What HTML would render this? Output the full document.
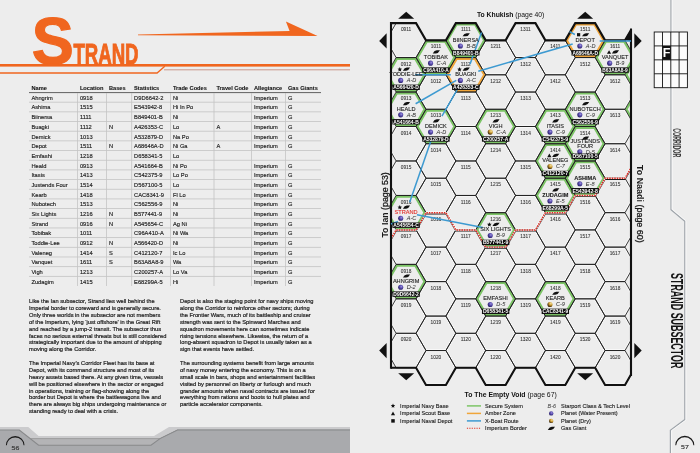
<!DOCTYPE html>
<html><head><meta charset="utf-8"><title>Strand</title>
<style>
html,body{margin:0;padding:0;}
body{width:700px;height:453px;background:#ededed;position:relative;overflow:hidden;font-family:"Liberation Sans", Arial, sans-serif;}
svg.full{position:absolute;left:0;top:0;}
.col{position:absolute;width:150px;font-size:6.25px;line-height:6.88px;color:#1e1e1e;white-space:nowrap;transform:scale(0.915,1);transform-origin:0 0;-webkit-text-stroke:0.22px #1e1e1e;}
.col p{margin:0 0 6.88px 0;}
</style></head><body>
<svg class="full" width="700" height="453" viewBox="0 0 700 453">
<polygon points="0,426.9 28.3,426.9 38.6,436.0 154,436.0 169,426.9 350,426.9 350,453 0,453" fill="#cbcbcd"/>
<polygon points="0,430 19.3,430 30.5,438.6 160,438.6 177.5,430 350,430 350,453 0,453" fill="#b4b4b6"/>
<polyline points="30.5,438.6 160,438.6 177.5,430 350,430" fill="none" stroke="#98989a" stroke-width="0.9"/>
<polygon points="0,430 19.3,430 38.6,445.3 151,445.3 160,438.6 177.5,430 350,430 350,453 0,453" fill="#a9aaad"/>
<polyline points="0,430 19.3,430 38.6,445.3 151,445.3 160,438.6 177.5,430 350,430" fill="none" stroke="#88898b" stroke-width="1.1"/>
<path d="M5.9,445.3 A9.3,9.3 0 0 1 24.5,445.3 L23.6,445.3 A8.4,7.8 0 0 0 6.8,445.3 Z" fill="#1a1a1a"/>
<text transform="translate(15.4,449.5) scale(1.4,1)" font-size="5.0" text-anchor="middle" fill="#3a3a3a" stroke="#3a3a3a" stroke-width="0.15" font-family='"Liberation Sans", Arial, sans-serif'>56</text>
<rect x="0" y="64" width="350" height="2.6" fill="#f0661f"/>
<polyline points="0,73 157.1,73 164.8,66.2" fill="none" stroke="#f0661f" stroke-width="1.3"/>
<rect x="164" y="69.1" width="186" height="1.3" fill="#d2aba1"/>
<polygon points="138,34.4 289.6,30.9 285.9,21.4 317.6,36 138,35.3" fill="#f0661f"/>
<text transform="translate(31.8,64.2) scale(0.955,1)" font-size="66" font-weight="bold" fill="#f0661f" font-family='"Liberation Sans", Arial, sans-serif' stroke="#f0661f" stroke-width="1.2">S</text>
<text transform="translate(73.4,64.2) scale(0.625,1)" x="0" y="0" font-size="29.8" font-weight="bold" fill="#f0661f" stroke="#f0661f" stroke-width="1.0" font-family='"Liberation Sans", Arial, sans-serif'>TRAND</text>
<g font-family='"Liberation Sans", Arial, sans-serif' font-size="6.1" fill="#151515" stroke="#151515" stroke-width="0.1">
<text transform="translate(31.4,90.3) scale(0.93,1)" font-weight="bold">Name</text>
<text transform="translate(79.9,90.3) scale(0.93,1)" font-weight="bold">Location</text>
<text transform="translate(108.9,90.3) scale(0.93,1)" font-weight="bold">Bases</text>
<text transform="translate(134.1,90.3) scale(0.93,1)" font-weight="bold">Statistics</text>
<text transform="translate(172.9,90.3) scale(0.93,1)" font-weight="bold">Trade Codes</text>
<text transform="translate(216.4,90.3) scale(0.93,1)" font-weight="bold">Travel Code</text>
<text transform="translate(253.9,90.3) scale(0.93,1)" font-weight="bold">Allegiance</text>
<text transform="translate(287.9,90.3) scale(0.93,1)" font-weight="bold">Gas Giants</text>
</g>
<rect x="29" y="92" width="292" height="1.1" fill="#6e6e6e"/>
<rect x="29" y="101.77" width="292" height="0.8" fill="#c4c4c4"/>
<rect x="29" y="111.45" width="292" height="0.8" fill="#c4c4c4"/>
<rect x="29" y="121.12" width="292" height="0.8" fill="#c4c4c4"/>
<rect x="29" y="130.80" width="292" height="0.8" fill="#c4c4c4"/>
<rect x="29" y="140.47" width="292" height="0.8" fill="#c4c4c4"/>
<rect x="29" y="150.15" width="292" height="0.8" fill="#c4c4c4"/>
<rect x="29" y="159.83" width="292" height="0.8" fill="#c4c4c4"/>
<rect x="29" y="169.50" width="292" height="0.8" fill="#c4c4c4"/>
<rect x="29" y="179.17" width="292" height="0.8" fill="#c4c4c4"/>
<rect x="29" y="188.85" width="292" height="0.8" fill="#c4c4c4"/>
<rect x="29" y="198.53" width="292" height="0.8" fill="#c4c4c4"/>
<rect x="29" y="208.20" width="292" height="0.8" fill="#c4c4c4"/>
<rect x="29" y="217.88" width="292" height="0.8" fill="#c4c4c4"/>
<rect x="29" y="227.55" width="292" height="0.8" fill="#c4c4c4"/>
<rect x="29" y="237.22" width="292" height="0.8" fill="#c4c4c4"/>
<rect x="29" y="246.90" width="292" height="0.8" fill="#c4c4c4"/>
<rect x="29" y="256.58" width="292" height="0.8" fill="#c4c4c4"/>
<rect x="29" y="266.25" width="292" height="0.8" fill="#c4c4c4"/>
<rect x="29" y="275.93" width="292" height="0.8" fill="#c4c4c4"/>
<rect x="77.1" y="93" width="0.8" height="193.0" fill="#c4c4c4"/>
<rect x="106.1" y="93" width="0.8" height="193.0" fill="#c4c4c4"/>
<rect x="131.3" y="93" width="0.8" height="193.0" fill="#c4c4c4"/>
<rect x="170.1" y="93" width="0.8" height="193.0" fill="#c4c4c4"/>
<rect x="213.6" y="93" width="0.8" height="193.0" fill="#c4c4c4"/>
<rect x="251.1" y="93" width="0.8" height="193.0" fill="#c4c4c4"/>
<rect x="285.1" y="93" width="0.8" height="193.0" fill="#c4c4c4"/>
<g font-family='"Liberation Sans", Arial, sans-serif' font-size="6.2" fill="#1e1e1e" stroke="#1e1e1e" stroke-width="0.16">
<text transform="translate(31.4,99.80) scale(0.925,1)">Ahngrim</text>
<text transform="translate(79.9,99.80) scale(0.925,1)">0918</text>
<text transform="translate(134.1,99.80) scale(0.925,1)">D9D6642-2</text>
<text transform="translate(172.9,99.80) scale(0.925,1)">Ni</text>
<text transform="translate(253.9,99.80) scale(0.925,1)">Imperium</text>
<text transform="translate(287.9,99.80) scale(0.925,1)">G</text>
<text transform="translate(31.4,109.47) scale(0.925,1)">Ashima</text>
<text transform="translate(79.9,109.47) scale(0.925,1)">1515</text>
<text transform="translate(134.1,109.47) scale(0.925,1)">E543942-8</text>
<text transform="translate(172.9,109.47) scale(0.925,1)">Hi In Po</text>
<text transform="translate(253.9,109.47) scale(0.925,1)">Imperium</text>
<text transform="translate(287.9,109.47) scale(0.925,1)">G</text>
<text transform="translate(31.4,119.15) scale(0.925,1)">Biinersa</text>
<text transform="translate(79.9,119.15) scale(0.925,1)">1111</text>
<text transform="translate(134.1,119.15) scale(0.925,1)">B849401-B</text>
<text transform="translate(172.9,119.15) scale(0.925,1)">Ni</text>
<text transform="translate(253.9,119.15) scale(0.925,1)">Imperium</text>
<text transform="translate(287.9,119.15) scale(0.925,1)">G</text>
<text transform="translate(31.4,128.83) scale(0.925,1)">Buagki</text>
<text transform="translate(79.9,128.83) scale(0.925,1)">1112</text>
<text transform="translate(108.9,128.83) scale(0.925,1)">N</text>
<text transform="translate(134.1,128.83) scale(0.925,1)">A426353-C</text>
<text transform="translate(172.9,128.83) scale(0.925,1)">Lo</text>
<text transform="translate(216.4,128.83) scale(0.925,1)">A</text>
<text transform="translate(253.9,128.83) scale(0.925,1)">Imperium</text>
<text transform="translate(287.9,128.83) scale(0.925,1)">G</text>
<text transform="translate(31.4,138.50) scale(0.925,1)">Demick</text>
<text transform="translate(79.9,138.50) scale(0.925,1)">1013</text>
<text transform="translate(134.1,138.50) scale(0.925,1)">A532879-D</text>
<text transform="translate(172.9,138.50) scale(0.925,1)">Na Po</text>
<text transform="translate(253.9,138.50) scale(0.925,1)">Imperium</text>
<text transform="translate(287.9,138.50) scale(0.925,1)">G</text>
<text transform="translate(31.4,148.18) scale(0.925,1)">Depot</text>
<text transform="translate(79.9,148.18) scale(0.925,1)">1511</text>
<text transform="translate(108.9,148.18) scale(0.925,1)">N</text>
<text transform="translate(134.1,148.18) scale(0.925,1)">A68646A-D</text>
<text transform="translate(172.9,148.18) scale(0.925,1)">Ni Ga</text>
<text transform="translate(216.4,148.18) scale(0.925,1)">A</text>
<text transform="translate(253.9,148.18) scale(0.925,1)">Imperium</text>
<text transform="translate(287.9,148.18) scale(0.925,1)">G</text>
<text transform="translate(31.4,157.85) scale(0.925,1)">Emfashi</text>
<text transform="translate(79.9,157.85) scale(0.925,1)">1218</text>
<text transform="translate(134.1,157.85) scale(0.925,1)">D658341-5</text>
<text transform="translate(172.9,157.85) scale(0.925,1)">Lo</text>
<text transform="translate(31.4,167.53) scale(0.925,1)">Heald</text>
<text transform="translate(79.9,167.53) scale(0.925,1)">0913</text>
<text transform="translate(134.1,167.53) scale(0.925,1)">A541664-B</text>
<text transform="translate(172.9,167.53) scale(0.925,1)">Ni Po</text>
<text transform="translate(253.9,167.53) scale(0.925,1)">Imperium</text>
<text transform="translate(287.9,167.53) scale(0.925,1)">G</text>
<text transform="translate(31.4,177.20) scale(0.925,1)">Itasis</text>
<text transform="translate(79.9,177.20) scale(0.925,1)">1413</text>
<text transform="translate(134.1,177.20) scale(0.925,1)">C542375-9</text>
<text transform="translate(172.9,177.20) scale(0.925,1)">Lo Po</text>
<text transform="translate(253.9,177.20) scale(0.925,1)">Imperium</text>
<text transform="translate(287.9,177.20) scale(0.925,1)">G</text>
<text transform="translate(31.4,186.88) scale(0.925,1)">Justends Four</text>
<text transform="translate(79.9,186.88) scale(0.925,1)">1514</text>
<text transform="translate(134.1,186.88) scale(0.925,1)">D567100-5</text>
<text transform="translate(172.9,186.88) scale(0.925,1)">Lo</text>
<text transform="translate(253.9,186.88) scale(0.925,1)">Imperium</text>
<text transform="translate(287.9,186.88) scale(0.925,1)">G</text>
<text transform="translate(31.4,196.55) scale(0.925,1)">Kearb</text>
<text transform="translate(79.9,196.55) scale(0.925,1)">1418</text>
<text transform="translate(134.1,196.55) scale(0.925,1)">CAC8341-9</text>
<text transform="translate(172.9,196.55) scale(0.925,1)">Fl Lo</text>
<text transform="translate(253.9,196.55) scale(0.925,1)">Imperium</text>
<text transform="translate(287.9,196.55) scale(0.925,1)">G</text>
<text transform="translate(31.4,206.23) scale(0.925,1)">Nubotech</text>
<text transform="translate(79.9,206.23) scale(0.925,1)">1513</text>
<text transform="translate(134.1,206.23) scale(0.925,1)">C562556-9</text>
<text transform="translate(172.9,206.23) scale(0.925,1)">Ni</text>
<text transform="translate(253.9,206.23) scale(0.925,1)">Imperium</text>
<text transform="translate(287.9,206.23) scale(0.925,1)">G</text>
<text transform="translate(31.4,215.90) scale(0.925,1)">Six Lights</text>
<text transform="translate(79.9,215.90) scale(0.925,1)">1216</text>
<text transform="translate(108.9,215.90) scale(0.925,1)">N</text>
<text transform="translate(134.1,215.90) scale(0.925,1)">B577441-9</text>
<text transform="translate(172.9,215.90) scale(0.925,1)">Ni</text>
<text transform="translate(253.9,215.90) scale(0.925,1)">Imperium</text>
<text transform="translate(287.9,215.90) scale(0.925,1)">G</text>
<text transform="translate(31.4,225.58) scale(0.925,1)">Strand</text>
<text transform="translate(79.9,225.58) scale(0.925,1)">0916</text>
<text transform="translate(108.9,225.58) scale(0.925,1)">N</text>
<text transform="translate(134.1,225.58) scale(0.925,1)">A545654-C</text>
<text transform="translate(172.9,225.58) scale(0.925,1)">Ag Ni</text>
<text transform="translate(253.9,225.58) scale(0.925,1)">Imperium</text>
<text transform="translate(287.9,225.58) scale(0.925,1)">G</text>
<text transform="translate(31.4,235.25) scale(0.925,1)">Tobibak</text>
<text transform="translate(79.9,235.25) scale(0.925,1)">1011</text>
<text transform="translate(134.1,235.25) scale(0.925,1)">C96A410-A</text>
<text transform="translate(172.9,235.25) scale(0.925,1)">Ni Wa</text>
<text transform="translate(253.9,235.25) scale(0.925,1)">Imperium</text>
<text transform="translate(287.9,235.25) scale(0.925,1)">G</text>
<text transform="translate(31.4,244.93) scale(0.925,1)">Toddie-Lee</text>
<text transform="translate(79.9,244.93) scale(0.925,1)">0912</text>
<text transform="translate(108.9,244.93) scale(0.925,1)">N</text>
<text transform="translate(134.1,244.93) scale(0.925,1)">A566420-D</text>
<text transform="translate(172.9,244.93) scale(0.925,1)">Ni</text>
<text transform="translate(253.9,244.93) scale(0.925,1)">Imperium</text>
<text transform="translate(287.9,244.93) scale(0.925,1)">G</text>
<text transform="translate(31.4,254.60) scale(0.925,1)">Valeneg</text>
<text transform="translate(79.9,254.60) scale(0.925,1)">1414</text>
<text transform="translate(108.9,254.60) scale(0.925,1)">S</text>
<text transform="translate(134.1,254.60) scale(0.925,1)">C412120-7</text>
<text transform="translate(172.9,254.60) scale(0.925,1)">Ic Lo</text>
<text transform="translate(253.9,254.60) scale(0.925,1)">Imperium</text>
<text transform="translate(287.9,254.60) scale(0.925,1)">G</text>
<text transform="translate(31.4,264.28) scale(0.925,1)">Vanquet</text>
<text transform="translate(79.9,264.28) scale(0.925,1)">1611</text>
<text transform="translate(108.9,264.28) scale(0.925,1)">S</text>
<text transform="translate(134.1,264.28) scale(0.925,1)">B63A8A8-9</text>
<text transform="translate(172.9,264.28) scale(0.925,1)">Wa</text>
<text transform="translate(253.9,264.28) scale(0.925,1)">Imperium</text>
<text transform="translate(287.9,264.28) scale(0.925,1)">G</text>
<text transform="translate(31.4,273.95) scale(0.925,1)">Vigh</text>
<text transform="translate(79.9,273.95) scale(0.925,1)">1213</text>
<text transform="translate(134.1,273.95) scale(0.925,1)">C200257-A</text>
<text transform="translate(172.9,273.95) scale(0.925,1)">Lo Va</text>
<text transform="translate(253.9,273.95) scale(0.925,1)">Imperium</text>
<text transform="translate(287.9,273.95) scale(0.925,1)">G</text>
<text transform="translate(31.4,283.63) scale(0.925,1)">Zudagim</text>
<text transform="translate(79.9,283.63) scale(0.925,1)">1415</text>
<text transform="translate(134.1,283.63) scale(0.925,1)">E68299A-5</text>
<text transform="translate(172.9,283.63) scale(0.925,1)">Hi</text>
<text transform="translate(253.9,283.63) scale(0.925,1)">Imperium</text>
<text transform="translate(287.9,283.63) scale(0.925,1)">G</text>
</g>
<defs>
<clipPath id="mc"><rect x="391.0" y="0" width="240.0" height="453"/></clipPath>
<radialGradient id="pw" cx="0.62" cy="0.38" r="0.7"><stop offset="0" stop-color="#9a8ee0"/><stop offset="0.5" stop-color="#5245a6"/><stop offset="1" stop-color="#221a5c"/></radialGradient>
<radialGradient id="pd" cx="0.68" cy="0.3" r="0.8"><stop offset="0" stop-color="#f6e2a0"/><stop offset="0.45" stop-color="#c8982e"/><stop offset="0.8" stop-color="#5a3e10"/><stop offset="1" stop-color="#2a1a05"/></radialGradient>
</defs>
<g clip-path="url(#mc)">
<g fill="none" stroke="#fbfbfb" stroke-width="0.8">
<polygon points="387.25,40.33 396.68,24.01 415.53,24.01 424.95,40.33 415.53,56.66 396.68,56.66"/>
<polygon points="387.25,74.80 396.68,58.48 415.53,58.48 424.95,74.80 415.53,91.13 396.68,91.13"/>
<polygon points="387.25,109.27 396.68,92.94 415.53,92.94 424.95,109.27 415.53,125.59 396.68,125.59"/>
<polygon points="387.25,143.74 396.68,127.41 415.53,127.41 424.95,143.74 415.53,160.06 396.68,160.06"/>
<polygon points="387.25,178.21 396.68,161.88 415.53,161.88 424.95,178.21 415.53,194.53 396.68,194.53"/>
<polygon points="387.25,212.67 396.68,196.35 415.53,196.35 424.95,212.67 415.53,229.00 396.68,229.00"/>
<polygon points="387.25,247.14 396.68,230.82 415.53,230.82 424.95,247.14 415.53,263.47 396.68,263.47"/>
<polygon points="387.25,281.61 396.68,265.28 415.53,265.28 424.95,281.61 415.53,297.93 396.68,297.93"/>
<polygon points="387.25,316.08 396.68,299.75 415.53,299.75 424.95,316.08 415.53,332.40 396.68,332.40"/>
<polygon points="387.25,350.54 396.68,334.22 415.53,334.22 424.95,350.54 415.53,366.87 396.68,366.87"/>
<polygon points="417.10,57.57 426.53,41.24 445.38,41.24 454.80,57.57 445.38,73.89 426.53,73.89"/>
<polygon points="417.10,92.04 426.53,75.71 445.38,75.71 454.80,92.04 445.38,108.36 426.53,108.36"/>
<polygon points="417.10,126.50 426.53,110.18 445.38,110.18 454.80,126.50 445.38,142.83 426.53,142.83"/>
<polygon points="417.10,160.97 426.53,144.65 445.38,144.65 454.80,160.97 445.38,177.30 426.53,177.30"/>
<polygon points="417.10,195.44 426.53,179.11 445.38,179.11 454.80,195.44 445.38,211.76 426.53,211.76"/>
<polygon points="417.10,229.91 426.53,213.58 445.38,213.58 454.80,229.91 445.38,246.23 426.53,246.23"/>
<polygon points="417.10,264.37 426.53,248.05 445.38,248.05 454.80,264.37 445.38,280.70 426.53,280.70"/>
<polygon points="417.10,298.84 426.53,282.52 445.38,282.52 454.80,298.84 445.38,315.17 426.53,315.17"/>
<polygon points="417.10,333.31 426.53,316.99 445.38,316.99 454.80,333.31 445.38,349.63 426.53,349.63"/>
<polygon points="417.10,367.78 426.53,351.45 445.38,351.45 454.80,367.78 445.38,384.10 426.53,384.10"/>
<polygon points="446.95,40.33 456.38,24.01 475.23,24.01 484.65,40.33 475.23,56.66 456.38,56.66"/>
<polygon points="446.95,74.80 456.38,58.48 475.23,58.48 484.65,74.80 475.23,91.13 456.38,91.13"/>
<polygon points="446.95,109.27 456.38,92.94 475.23,92.94 484.65,109.27 475.23,125.59 456.38,125.59"/>
<polygon points="446.95,143.74 456.38,127.41 475.23,127.41 484.65,143.74 475.23,160.06 456.38,160.06"/>
<polygon points="446.95,178.21 456.38,161.88 475.23,161.88 484.65,178.21 475.23,194.53 456.38,194.53"/>
<polygon points="446.95,212.67 456.38,196.35 475.23,196.35 484.65,212.67 475.23,229.00 456.38,229.00"/>
<polygon points="446.95,247.14 456.38,230.82 475.23,230.82 484.65,247.14 475.23,263.47 456.38,263.47"/>
<polygon points="446.95,281.61 456.38,265.28 475.23,265.28 484.65,281.61 475.23,297.93 456.38,297.93"/>
<polygon points="446.95,316.08 456.38,299.75 475.23,299.75 484.65,316.08 475.23,332.40 456.38,332.40"/>
<polygon points="446.95,350.54 456.38,334.22 475.23,334.22 484.65,350.54 475.23,366.87 456.38,366.87"/>
<polygon points="476.80,57.57 486.23,41.24 505.08,41.24 514.50,57.57 505.08,73.89 486.23,73.89"/>
<polygon points="476.80,92.04 486.23,75.71 505.08,75.71 514.50,92.04 505.08,108.36 486.23,108.36"/>
<polygon points="476.80,126.50 486.23,110.18 505.08,110.18 514.50,126.50 505.08,142.83 486.23,142.83"/>
<polygon points="476.80,160.97 486.23,144.65 505.08,144.65 514.50,160.97 505.08,177.30 486.23,177.30"/>
<polygon points="476.80,195.44 486.23,179.11 505.08,179.11 514.50,195.44 505.08,211.76 486.23,211.76"/>
<polygon points="476.80,229.91 486.23,213.58 505.08,213.58 514.50,229.91 505.08,246.23 486.23,246.23"/>
<polygon points="476.80,264.37 486.23,248.05 505.08,248.05 514.50,264.37 505.08,280.70 486.23,280.70"/>
<polygon points="476.80,298.84 486.23,282.52 505.08,282.52 514.50,298.84 505.08,315.17 486.23,315.17"/>
<polygon points="476.80,333.31 486.23,316.99 505.08,316.99 514.50,333.31 505.08,349.63 486.23,349.63"/>
<polygon points="476.80,367.78 486.23,351.45 505.08,351.45 514.50,367.78 505.08,384.10 486.23,384.10"/>
<polygon points="506.65,40.33 516.08,24.01 534.92,24.01 544.35,40.33 534.92,56.66 516.08,56.66"/>
<polygon points="506.65,74.80 516.08,58.48 534.92,58.48 544.35,74.80 534.92,91.13 516.08,91.13"/>
<polygon points="506.65,109.27 516.08,92.94 534.92,92.94 544.35,109.27 534.92,125.59 516.08,125.59"/>
<polygon points="506.65,143.74 516.08,127.41 534.92,127.41 544.35,143.74 534.92,160.06 516.08,160.06"/>
<polygon points="506.65,178.21 516.08,161.88 534.92,161.88 544.35,178.21 534.92,194.53 516.08,194.53"/>
<polygon points="506.65,212.67 516.08,196.35 534.92,196.35 544.35,212.67 534.92,229.00 516.08,229.00"/>
<polygon points="506.65,247.14 516.08,230.82 534.92,230.82 544.35,247.14 534.92,263.47 516.08,263.47"/>
<polygon points="506.65,281.61 516.08,265.28 534.92,265.28 544.35,281.61 534.92,297.93 516.08,297.93"/>
<polygon points="506.65,316.08 516.08,299.75 534.92,299.75 544.35,316.08 534.92,332.40 516.08,332.40"/>
<polygon points="506.65,350.54 516.08,334.22 534.92,334.22 544.35,350.54 534.92,366.87 516.08,366.87"/>
<polygon points="536.50,57.57 545.93,41.24 564.77,41.24 574.20,57.57 564.77,73.89 545.93,73.89"/>
<polygon points="536.50,92.04 545.93,75.71 564.77,75.71 574.20,92.04 564.77,108.36 545.93,108.36"/>
<polygon points="536.50,126.50 545.93,110.18 564.77,110.18 574.20,126.50 564.77,142.83 545.93,142.83"/>
<polygon points="536.50,160.97 545.93,144.65 564.77,144.65 574.20,160.97 564.77,177.30 545.93,177.30"/>
<polygon points="536.50,195.44 545.93,179.11 564.77,179.11 574.20,195.44 564.77,211.76 545.93,211.76"/>
<polygon points="536.50,229.91 545.93,213.58 564.77,213.58 574.20,229.91 564.77,246.23 545.93,246.23"/>
<polygon points="536.50,264.37 545.93,248.05 564.77,248.05 574.20,264.37 564.77,280.70 545.93,280.70"/>
<polygon points="536.50,298.84 545.93,282.52 564.77,282.52 574.20,298.84 564.77,315.17 545.93,315.17"/>
<polygon points="536.50,333.31 545.93,316.99 564.77,316.99 574.20,333.31 564.77,349.63 545.93,349.63"/>
<polygon points="536.50,367.78 545.93,351.45 564.77,351.45 574.20,367.78 564.77,384.10 545.93,384.10"/>
<polygon points="566.35,40.33 575.78,24.01 594.62,24.01 604.05,40.33 594.62,56.66 575.78,56.66"/>
<polygon points="566.35,74.80 575.78,58.48 594.62,58.48 604.05,74.80 594.62,91.13 575.78,91.13"/>
<polygon points="566.35,109.27 575.78,92.94 594.62,92.94 604.05,109.27 594.62,125.59 575.78,125.59"/>
<polygon points="566.35,143.74 575.78,127.41 594.62,127.41 604.05,143.74 594.62,160.06 575.78,160.06"/>
<polygon points="566.35,178.21 575.78,161.88 594.62,161.88 604.05,178.21 594.62,194.53 575.78,194.53"/>
<polygon points="566.35,212.67 575.78,196.35 594.62,196.35 604.05,212.67 594.62,229.00 575.78,229.00"/>
<polygon points="566.35,247.14 575.78,230.82 594.62,230.82 604.05,247.14 594.62,263.47 575.78,263.47"/>
<polygon points="566.35,281.61 575.78,265.28 594.62,265.28 604.05,281.61 594.62,297.93 575.78,297.93"/>
<polygon points="566.35,316.08 575.78,299.75 594.62,299.75 604.05,316.08 594.62,332.40 575.78,332.40"/>
<polygon points="566.35,350.54 575.78,334.22 594.62,334.22 604.05,350.54 594.62,366.87 575.78,366.87"/>
<polygon points="596.20,57.57 605.62,41.24 624.47,41.24 633.90,57.57 624.47,73.89 605.62,73.89"/>
<polygon points="596.20,92.04 605.62,75.71 624.47,75.71 633.90,92.04 624.47,108.36 605.62,108.36"/>
<polygon points="596.20,126.50 605.62,110.18 624.47,110.18 633.90,126.50 624.47,142.83 605.62,142.83"/>
<polygon points="596.20,160.97 605.62,144.65 624.47,144.65 633.90,160.97 624.47,177.30 605.62,177.30"/>
<polygon points="596.20,195.44 605.62,179.11 624.47,179.11 633.90,195.44 624.47,211.76 605.62,211.76"/>
<polygon points="596.20,229.91 605.62,213.58 624.47,213.58 633.90,229.91 624.47,246.23 605.62,246.23"/>
<polygon points="596.20,264.37 605.62,248.05 624.47,248.05 633.90,264.37 624.47,280.70 605.62,280.70"/>
<polygon points="596.20,298.84 605.62,282.52 624.47,282.52 633.90,298.84 624.47,315.17 605.62,315.17"/>
<polygon points="596.20,333.31 605.62,316.99 624.47,316.99 633.90,333.31 624.47,349.63 605.62,349.63"/>
<polygon points="596.20,367.78 605.62,351.45 624.47,351.45 633.90,367.78 624.47,384.10 605.62,384.10"/>
</g>
<polygon points="387.65,74.80 396.88,58.82 415.33,58.82 424.55,74.80 415.33,90.78 396.88,90.78" fill="none" stroke="#7cc466" stroke-width="2.25"/>
<polygon points="387.65,109.27 396.88,93.29 415.33,93.29 424.55,109.27 415.33,125.25 396.88,125.25" fill="none" stroke="#7cc466" stroke-width="2.25"/>
<polygon points="387.65,212.67 396.88,196.69 415.33,196.69 424.55,212.67 415.33,228.65 396.88,228.65" fill="none" stroke="#7cc466" stroke-width="2.25"/>
<polygon points="387.65,281.61 396.88,265.63 415.33,265.63 424.55,281.61 415.33,297.59 396.88,297.59" fill="none" stroke="#7cc466" stroke-width="2.25"/>
<polygon points="417.50,57.57 426.73,41.59 445.18,41.59 454.40,57.57 445.18,73.55 426.73,73.55" fill="none" stroke="#7cc466" stroke-width="2.25"/>
<polygon points="417.50,126.50 426.73,110.53 445.18,110.53 454.40,126.50 445.18,142.48 426.73,142.48" fill="none" stroke="#7cc466" stroke-width="2.25"/>
<polygon points="447.35,40.33 456.57,24.36 475.03,24.36 484.25,40.33 475.03,56.31 456.57,56.31" fill="none" stroke="#7cc466" stroke-width="2.25"/>
<polygon points="447.35,74.80 456.57,58.82 475.03,58.82 484.25,74.80 475.03,90.78 456.57,90.78" fill="none" stroke="#f0a53a" stroke-width="2.25"/>
<polygon points="477.20,126.50 486.43,110.53 504.88,110.53 514.10,126.50 504.88,142.48 486.43,142.48" fill="none" stroke="#7cc466" stroke-width="2.25"/>
<polygon points="477.20,229.91 486.43,213.93 504.88,213.93 514.10,229.91 504.88,245.89 486.43,245.89" fill="none" stroke="#7cc466" stroke-width="2.25"/>
<polygon points="477.20,298.84 486.43,282.86 504.88,282.86 514.10,298.84 504.88,314.82 486.43,314.82" fill="none" stroke="#7cc466" stroke-width="2.25"/>
<polygon points="536.90,126.50 546.12,110.53 564.58,110.53 573.80,126.50 564.58,142.48 546.12,142.48" fill="none" stroke="#7cc466" stroke-width="2.25"/>
<polygon points="536.90,160.97 546.12,144.99 564.58,144.99 573.80,160.97 564.58,176.95 546.12,176.95" fill="none" stroke="#7cc466" stroke-width="2.25"/>
<polygon points="536.90,195.44 546.12,179.46 564.58,179.46 573.80,195.44 564.58,211.42 546.12,211.42" fill="none" stroke="#7cc466" stroke-width="2.25"/>
<polygon points="536.90,298.84 546.12,282.86 564.58,282.86 573.80,298.84 564.58,314.82 546.12,314.82" fill="none" stroke="#7cc466" stroke-width="2.25"/>
<polygon points="566.75,40.33 575.98,24.36 594.43,24.36 603.65,40.33 594.43,56.31 575.98,56.31" fill="none" stroke="#f0a53a" stroke-width="2.25"/>
<polygon points="566.75,109.27 575.98,93.29 594.43,93.29 603.65,109.27 594.43,125.25 575.98,125.25" fill="none" stroke="#7cc466" stroke-width="2.25"/>
<polygon points="566.75,143.74 575.98,127.76 594.43,127.76 603.65,143.74 594.43,159.72 575.98,159.72" fill="none" stroke="#7cc466" stroke-width="2.25"/>
<polygon points="566.75,178.21 575.98,162.23 594.43,162.23 603.65,178.21 594.43,194.18 575.98,194.18" fill="none" stroke="#7cc466" stroke-width="2.25"/>
<polygon points="596.60,57.57 605.82,41.59 624.27,41.59 633.50,57.57 624.27,73.55 605.82,73.55" fill="none" stroke="#7cc466" stroke-width="2.25"/>
<polygon points="626.45,74.80 635.67,58.82 654.12,58.82 663.35,74.80 654.12,90.78 635.67,90.78" fill="none" stroke="#7cc466" stroke-width="2.25"/>
<polygon points="626.45,109.27 635.67,93.29 654.12,93.29 663.35,109.27 654.12,125.25 635.67,125.25" fill="none" stroke="#7cc466" stroke-width="2.25"/>
<g fill="none" stroke="#1c1c1c" stroke-width="0.85">
<polygon points="386.20,40.33 396.15,23.10 416.05,23.10 426.00,40.33 416.05,57.57 396.15,57.57"/>
<polygon points="386.20,74.80 396.15,57.57 416.05,57.57 426.00,74.80 416.05,92.04 396.15,92.04"/>
<polygon points="386.20,109.27 396.15,92.04 416.05,92.04 426.00,109.27 416.05,126.50 396.15,126.50"/>
<polygon points="386.20,143.74 396.15,126.50 416.05,126.50 426.00,143.74 416.05,160.97 396.15,160.97"/>
<polygon points="386.20,178.21 396.15,160.97 416.05,160.97 426.00,178.21 416.05,195.44 396.15,195.44"/>
<polygon points="386.20,212.67 396.15,195.44 416.05,195.44 426.00,212.67 416.05,229.91 396.15,229.91"/>
<polygon points="386.20,247.14 396.15,229.91 416.05,229.91 426.00,247.14 416.05,264.37 396.15,264.37"/>
<polygon points="386.20,281.61 396.15,264.37 416.05,264.37 426.00,281.61 416.05,298.84 396.15,298.84"/>
<polygon points="386.20,316.08 396.15,298.84 416.05,298.84 426.00,316.08 416.05,333.31 396.15,333.31"/>
<polygon points="386.20,350.54 396.15,333.31 416.05,333.31 426.00,350.54 416.05,367.78 396.15,367.78"/>
<polygon points="416.05,57.57 426.00,40.33 445.90,40.33 455.85,57.57 445.90,74.80 426.00,74.80"/>
<polygon points="416.05,92.04 426.00,74.80 445.90,74.80 455.85,92.04 445.90,109.27 426.00,109.27"/>
<polygon points="416.05,126.50 426.00,109.27 445.90,109.27 455.85,126.50 445.90,143.74 426.00,143.74"/>
<polygon points="416.05,160.97 426.00,143.74 445.90,143.74 455.85,160.97 445.90,178.21 426.00,178.21"/>
<polygon points="416.05,195.44 426.00,178.21 445.90,178.21 455.85,195.44 445.90,212.67 426.00,212.67"/>
<polygon points="416.05,229.91 426.00,212.67 445.90,212.67 455.85,229.91 445.90,247.14 426.00,247.14"/>
<polygon points="416.05,264.37 426.00,247.14 445.90,247.14 455.85,264.37 445.90,281.61 426.00,281.61"/>
<polygon points="416.05,298.84 426.00,281.61 445.90,281.61 455.85,298.84 445.90,316.08 426.00,316.08"/>
<polygon points="416.05,333.31 426.00,316.08 445.90,316.08 455.85,333.31 445.90,350.54 426.00,350.54"/>
<polygon points="416.05,367.78 426.00,350.54 445.90,350.54 455.85,367.78 445.90,385.01 426.00,385.01"/>
<polygon points="445.90,40.33 455.85,23.10 475.75,23.10 485.70,40.33 475.75,57.57 455.85,57.57"/>
<polygon points="445.90,74.80 455.85,57.57 475.75,57.57 485.70,74.80 475.75,92.04 455.85,92.04"/>
<polygon points="445.90,109.27 455.85,92.04 475.75,92.04 485.70,109.27 475.75,126.50 455.85,126.50"/>
<polygon points="445.90,143.74 455.85,126.50 475.75,126.50 485.70,143.74 475.75,160.97 455.85,160.97"/>
<polygon points="445.90,178.21 455.85,160.97 475.75,160.97 485.70,178.21 475.75,195.44 455.85,195.44"/>
<polygon points="445.90,212.67 455.85,195.44 475.75,195.44 485.70,212.67 475.75,229.91 455.85,229.91"/>
<polygon points="445.90,247.14 455.85,229.91 475.75,229.91 485.70,247.14 475.75,264.37 455.85,264.37"/>
<polygon points="445.90,281.61 455.85,264.37 475.75,264.37 485.70,281.61 475.75,298.84 455.85,298.84"/>
<polygon points="445.90,316.08 455.85,298.84 475.75,298.84 485.70,316.08 475.75,333.31 455.85,333.31"/>
<polygon points="445.90,350.54 455.85,333.31 475.75,333.31 485.70,350.54 475.75,367.78 455.85,367.78"/>
<polygon points="475.75,57.57 485.70,40.33 505.60,40.33 515.55,57.57 505.60,74.80 485.70,74.80"/>
<polygon points="475.75,92.04 485.70,74.80 505.60,74.80 515.55,92.04 505.60,109.27 485.70,109.27"/>
<polygon points="475.75,126.50 485.70,109.27 505.60,109.27 515.55,126.50 505.60,143.74 485.70,143.74"/>
<polygon points="475.75,160.97 485.70,143.74 505.60,143.74 515.55,160.97 505.60,178.21 485.70,178.21"/>
<polygon points="475.75,195.44 485.70,178.21 505.60,178.21 515.55,195.44 505.60,212.67 485.70,212.67"/>
<polygon points="475.75,229.91 485.70,212.67 505.60,212.67 515.55,229.91 505.60,247.14 485.70,247.14"/>
<polygon points="475.75,264.37 485.70,247.14 505.60,247.14 515.55,264.37 505.60,281.61 485.70,281.61"/>
<polygon points="475.75,298.84 485.70,281.61 505.60,281.61 515.55,298.84 505.60,316.08 485.70,316.08"/>
<polygon points="475.75,333.31 485.70,316.08 505.60,316.08 515.55,333.31 505.60,350.54 485.70,350.54"/>
<polygon points="475.75,367.78 485.70,350.54 505.60,350.54 515.55,367.78 505.60,385.01 485.70,385.01"/>
<polygon points="505.60,40.33 515.55,23.10 535.45,23.10 545.40,40.33 535.45,57.57 515.55,57.57"/>
<polygon points="505.60,74.80 515.55,57.57 535.45,57.57 545.40,74.80 535.45,92.04 515.55,92.04"/>
<polygon points="505.60,109.27 515.55,92.04 535.45,92.04 545.40,109.27 535.45,126.50 515.55,126.50"/>
<polygon points="505.60,143.74 515.55,126.50 535.45,126.50 545.40,143.74 535.45,160.97 515.55,160.97"/>
<polygon points="505.60,178.21 515.55,160.97 535.45,160.97 545.40,178.21 535.45,195.44 515.55,195.44"/>
<polygon points="505.60,212.67 515.55,195.44 535.45,195.44 545.40,212.67 535.45,229.91 515.55,229.91"/>
<polygon points="505.60,247.14 515.55,229.91 535.45,229.91 545.40,247.14 535.45,264.37 515.55,264.37"/>
<polygon points="505.60,281.61 515.55,264.37 535.45,264.37 545.40,281.61 535.45,298.84 515.55,298.84"/>
<polygon points="505.60,316.08 515.55,298.84 535.45,298.84 545.40,316.08 535.45,333.31 515.55,333.31"/>
<polygon points="505.60,350.54 515.55,333.31 535.45,333.31 545.40,350.54 535.45,367.78 515.55,367.78"/>
<polygon points="535.45,57.57 545.40,40.33 565.30,40.33 575.25,57.57 565.30,74.80 545.40,74.80"/>
<polygon points="535.45,92.04 545.40,74.80 565.30,74.80 575.25,92.04 565.30,109.27 545.40,109.27"/>
<polygon points="535.45,126.50 545.40,109.27 565.30,109.27 575.25,126.50 565.30,143.74 545.40,143.74"/>
<polygon points="535.45,160.97 545.40,143.74 565.30,143.74 575.25,160.97 565.30,178.21 545.40,178.21"/>
<polygon points="535.45,195.44 545.40,178.21 565.30,178.21 575.25,195.44 565.30,212.67 545.40,212.67"/>
<polygon points="535.45,229.91 545.40,212.67 565.30,212.67 575.25,229.91 565.30,247.14 545.40,247.14"/>
<polygon points="535.45,264.37 545.40,247.14 565.30,247.14 575.25,264.37 565.30,281.61 545.40,281.61"/>
<polygon points="535.45,298.84 545.40,281.61 565.30,281.61 575.25,298.84 565.30,316.08 545.40,316.08"/>
<polygon points="535.45,333.31 545.40,316.08 565.30,316.08 575.25,333.31 565.30,350.54 545.40,350.54"/>
<polygon points="535.45,367.78 545.40,350.54 565.30,350.54 575.25,367.78 565.30,385.01 545.40,385.01"/>
<polygon points="565.30,40.33 575.25,23.10 595.15,23.10 605.10,40.33 595.15,57.57 575.25,57.57"/>
<polygon points="565.30,74.80 575.25,57.57 595.15,57.57 605.10,74.80 595.15,92.04 575.25,92.04"/>
<polygon points="565.30,109.27 575.25,92.04 595.15,92.04 605.10,109.27 595.15,126.50 575.25,126.50"/>
<polygon points="565.30,143.74 575.25,126.50 595.15,126.50 605.10,143.74 595.15,160.97 575.25,160.97"/>
<polygon points="565.30,178.21 575.25,160.97 595.15,160.97 605.10,178.21 595.15,195.44 575.25,195.44"/>
<polygon points="565.30,212.67 575.25,195.44 595.15,195.44 605.10,212.67 595.15,229.91 575.25,229.91"/>
<polygon points="565.30,247.14 575.25,229.91 595.15,229.91 605.10,247.14 595.15,264.37 575.25,264.37"/>
<polygon points="565.30,281.61 575.25,264.37 595.15,264.37 605.10,281.61 595.15,298.84 575.25,298.84"/>
<polygon points="565.30,316.08 575.25,298.84 595.15,298.84 605.10,316.08 595.15,333.31 575.25,333.31"/>
<polygon points="565.30,350.54 575.25,333.31 595.15,333.31 605.10,350.54 595.15,367.78 575.25,367.78"/>
<polygon points="595.15,57.57 605.10,40.33 625.00,40.33 634.95,57.57 625.00,74.80 605.10,74.80"/>
<polygon points="595.15,92.04 605.10,74.80 625.00,74.80 634.95,92.04 625.00,109.27 605.10,109.27"/>
<polygon points="595.15,126.50 605.10,109.27 625.00,109.27 634.95,126.50 625.00,143.74 605.10,143.74"/>
<polygon points="595.15,160.97 605.10,143.74 625.00,143.74 634.95,160.97 625.00,178.21 605.10,178.21"/>
<polygon points="595.15,195.44 605.10,178.21 625.00,178.21 634.95,195.44 625.00,212.67 605.10,212.67"/>
<polygon points="595.15,229.91 605.10,212.67 625.00,212.67 634.95,229.91 625.00,247.14 605.10,247.14"/>
<polygon points="595.15,264.37 605.10,247.14 625.00,247.14 634.95,264.37 625.00,281.61 605.10,281.61"/>
<polygon points="595.15,298.84 605.10,281.61 625.00,281.61 634.95,298.84 625.00,316.08 605.10,316.08"/>
<polygon points="595.15,333.31 605.10,316.08 625.00,316.08 634.95,333.31 625.00,350.54 605.10,350.54"/>
<polygon points="595.15,367.78 605.10,350.54 625.00,350.54 634.95,367.78 625.00,385.01 605.10,385.01"/>
</g>
</g>
<g clip-path="url(#mc)">
<polyline points="386.20,248.20 396.15,231.00 416.05,231.00 426.00,213.80 445.90,213.80 455.85,231.00 475.75,231.00 485.70,248.20 505.60,248.20 515.55,231.00 535.45,231.00 545.40,213.80 565.30,213.80 575.25,196.50 595.15,196.50 605.10,179.30 625.00,179.30 634.95,162.10" fill="none" stroke="#1a1a1a" stroke-width="1.2"/>
<polyline points="386.20,247.10 396.15,229.90 416.05,229.90 426.00,212.70 445.90,212.70 455.85,229.90 475.75,229.90 485.70,247.10 505.60,247.10 515.55,229.90 535.45,229.90 545.40,212.70 565.30,212.70 575.25,195.40 595.15,195.40 605.10,178.20 625.00,178.20 634.95,161.00" fill="none" stroke="#f6f6f6" stroke-width="1.45"/>
<polyline points="386.20,247.10 396.15,229.90 416.05,229.90 426.00,212.70 445.90,212.70 455.85,229.90 475.75,229.90 485.70,247.10 505.60,247.10 515.55,229.90 535.45,229.90 545.40,212.70 565.30,212.70 575.25,195.40 595.15,195.40 605.10,178.20 625.00,178.20 634.95,161.00" fill="none" stroke="#e2261c" stroke-width="1.45" stroke-dasharray="1.5 1.0"/>
</g>
<polyline points="631,168 640,153" fill="none" stroke="#e03020" stroke-width="1" stroke-dasharray="1.3 1.3" opacity="0"/>
<g fill="none" stroke="#111" stroke-width="2.1" stroke-linejoin="miter">
<polyline points="391.00,23.10 396.15,23.10 416.05,23.10 426.00,40.33 445.90,40.33 455.85,23.10 475.75,23.10 485.70,40.33 505.60,40.33 515.55,23.10 535.45,23.10 545.40,40.33 565.30,40.33 575.25,23.10 595.15,23.10 605.10,40.33 625.00,40.33 631.00,29.90"/>
<polyline points="391.00,367.78 396.15,367.78 416.05,367.78 426.00,385.01 445.90,385.01 455.85,367.78 475.75,367.78 485.70,385.01 505.60,385.01 515.55,367.78 535.45,367.78 545.40,385.01 565.30,385.01 575.25,367.78 595.15,367.78 605.10,385.01 625.00,385.01 631.00,374.50"/>
<line x1="391.0" y1="22.05" x2="391.0" y2="368.85"/>
<line x1="631.0" y1="28.5" x2="631.0" y2="376"/>
</g>
<polygon points="624.6,40.3 631,29.2 631,41" fill="#111"/>
<g font-family='"Liberation Sans", Arial, sans-serif' font-size="4.8" fill="#333" stroke="#333" stroke-width="0.08" text-anchor="middle">
<text x="406.10" y="31.23">0911</text>
<text x="406.10" y="65.70">0912</text>
<text x="406.10" y="100.17">0913</text>
<text x="406.10" y="134.64">0914</text>
<text x="406.10" y="169.11">0915</text>
<text x="406.10" y="203.57">0916</text>
<text x="406.10" y="238.04">0917</text>
<text x="406.10" y="272.51">0918</text>
<text x="406.10" y="306.98">0919</text>
<text x="406.10" y="341.44">0920</text>
<text x="435.95" y="48.47">1011</text>
<text x="435.95" y="82.94">1012</text>
<text x="435.95" y="117.40">1013</text>
<text x="435.95" y="151.87">1014</text>
<text x="435.95" y="186.34">1015</text>
<text x="435.95" y="220.81">1016</text>
<text x="435.95" y="255.27">1017</text>
<text x="435.95" y="289.74">1018</text>
<text x="435.95" y="324.21">1019</text>
<text x="435.95" y="358.68">1020</text>
<text x="465.80" y="31.23">1111</text>
<text x="465.80" y="65.70">1112</text>
<text x="465.80" y="100.17">1113</text>
<text x="465.80" y="134.64">1114</text>
<text x="465.80" y="169.11">1115</text>
<text x="465.80" y="203.57">1116</text>
<text x="465.80" y="238.04">1117</text>
<text x="465.80" y="272.51">1118</text>
<text x="465.80" y="306.98">1119</text>
<text x="465.80" y="341.44">1120</text>
<text x="495.65" y="48.47">1211</text>
<text x="495.65" y="82.94">1212</text>
<text x="495.65" y="117.40">1213</text>
<text x="495.65" y="151.87">1214</text>
<text x="495.65" y="186.34">1215</text>
<text x="495.65" y="220.81">1216</text>
<text x="495.65" y="255.27">1217</text>
<text x="495.65" y="289.74">1218</text>
<text x="495.65" y="324.21">1219</text>
<text x="495.65" y="358.68">1220</text>
<text x="525.50" y="31.23">1311</text>
<text x="525.50" y="65.70">1312</text>
<text x="525.50" y="100.17">1313</text>
<text x="525.50" y="134.64">1314</text>
<text x="525.50" y="169.11">1315</text>
<text x="525.50" y="203.57">1316</text>
<text x="525.50" y="238.04">1317</text>
<text x="525.50" y="272.51">1318</text>
<text x="525.50" y="306.98">1319</text>
<text x="525.50" y="341.44">1320</text>
<text x="555.35" y="48.47">1411</text>
<text x="555.35" y="82.94">1412</text>
<text x="555.35" y="117.40">1413</text>
<text x="555.35" y="151.87">1414</text>
<text x="555.35" y="186.34">1415</text>
<text x="555.35" y="220.81">1416</text>
<text x="555.35" y="255.27">1417</text>
<text x="555.35" y="289.74">1418</text>
<text x="555.35" y="324.21">1419</text>
<text x="555.35" y="358.68">1420</text>
<text x="585.20" y="31.23">1511</text>
<text x="585.20" y="65.70">1512</text>
<text x="585.20" y="100.17">1513</text>
<text x="585.20" y="134.64">1514</text>
<text x="585.20" y="169.11">1515</text>
<text x="585.20" y="203.57">1516</text>
<text x="585.20" y="238.04">1517</text>
<text x="585.20" y="272.51">1518</text>
<text x="585.20" y="306.98">1519</text>
<text x="585.20" y="341.44">1520</text>
<text x="615.05" y="48.47">1611</text>
<text x="615.05" y="82.94">1612</text>
<text x="615.05" y="117.40">1613</text>
<text x="615.05" y="151.87">1614</text>
<text x="615.05" y="186.34">1615</text>
<text x="615.05" y="220.81">1616</text>
<text x="615.05" y="255.27">1617</text>
<text x="615.05" y="289.74">1618</text>
<text x="615.05" y="324.21">1619</text>
<text x="615.05" y="358.68">1620</text>
</g>
<g stroke="#3d9ad1" stroke-width="1.5" fill="none">
<line x1="415.10" y1="74.80" x2="450.80" y2="74.80"/>
<line x1="415.63" y1="103.77" x2="456.27" y2="80.30"/>
<line x1="441.95" y1="116.11" x2="459.80" y2="85.19"/>
<line x1="478.29" y1="71.20" x2="572.71" y2="43.94"/>
<line x1="432.02" y1="137.84" x2="409.70" y2="202.28"/>
<line x1="416.90" y1="214.75" x2="482.88" y2="227.45"/>
<line x1="470" y1="64.2" x2="481.5" y2="32.4"/>
<line x1="599.7" y1="41.0" x2="631" y2="41.0"/>
<line x1="569.6" y1="31.6" x2="574.9" y2="34.5"/>
<line x1="391" y1="224" x2="398" y2="221.5"/>
</g>
<path d="M402.90,70.80 Q404.50,67.60 406.90,67.60 L410.10,67.60 Q408.50,70.80 406.10,70.80 Z" fill="#111"/>
<polygon points="399.80,67.10 400.46,68.59 402.08,68.76 400.87,69.85 401.21,71.44 399.80,70.63 398.39,71.44 398.73,69.85 397.52,68.76 399.14,68.59" fill="#111"/>
<text x="406.10" y="76.10" font-family='"Liberation Sans", Arial, sans-serif' font-size="5.6" font-weight="normal" fill="#1e1e1e" stroke="#1e1e1e" stroke-width="0.12" text-anchor="middle">TODDIE-LEE</text>
<circle cx="400.70" cy="80.40" r="2.55" fill="url(#pw)"/>
<text x="406.70" y="82.30" font-family='"Liberation Sans", Arial, sans-serif' font-size="5.6" font-style="italic" fill="#2a2a2a">A-D</text>
<rect x="392.40" y="84.60" width="27.4" height="5.4" fill="#111"/>
<text x="406.10" y="89.10" font-family='"Liberation Sans", Arial, sans-serif' font-size="5.0" font-weight="bold" fill="#fff" text-anchor="middle" textLength="25.5" lengthAdjust="spacingAndGlyphs">A566420-D</text>
<path d="M402.90,105.27 Q404.50,102.07 406.90,102.07 L410.10,102.07 Q408.50,105.27 406.10,105.27 Z" fill="#111"/>
<text x="406.10" y="110.57" font-family='"Liberation Sans", Arial, sans-serif' font-size="5.6" font-weight="normal" fill="#1e1e1e" stroke="#1e1e1e" stroke-width="0.12" text-anchor="middle">HEALD</text>
<circle cx="400.70" cy="114.87" r="2.55" fill="url(#pw)"/>
<text x="406.70" y="116.77" font-family='"Liberation Sans", Arial, sans-serif' font-size="5.6" font-style="italic" fill="#2a2a2a">A-B</text>
<rect x="392.40" y="119.07" width="27.4" height="5.4" fill="#111"/>
<text x="406.10" y="123.57" font-family='"Liberation Sans", Arial, sans-serif' font-size="5.0" font-weight="bold" fill="#fff" text-anchor="middle" textLength="25.5" lengthAdjust="spacingAndGlyphs">A541664-B</text>
<path d="M402.90,208.67 Q404.50,205.47 406.90,205.47 L410.10,205.47 Q408.50,208.67 406.10,208.67 Z" fill="#111"/>
<polygon points="399.80,204.97 400.46,206.46 402.08,206.63 400.87,207.72 401.21,209.31 399.80,208.50 398.39,209.31 398.73,207.72 397.52,206.63 399.14,206.46" fill="#111"/>
<text x="406.10" y="213.97" font-family='"Liberation Sans", Arial, sans-serif' font-size="5.6" font-weight="normal" fill="#e0302a" stroke="#e0302a" stroke-width="0.12" text-anchor="middle">STRAND</text>
<circle cx="400.70" cy="218.27" r="2.55" fill="url(#pw)"/>
<text x="406.70" y="220.17" font-family='"Liberation Sans", Arial, sans-serif' font-size="5.6" font-style="italic" fill="#2a2a2a">A-C</text>
<rect x="392.40" y="222.47" width="27.4" height="5.4" fill="#111"/>
<text x="406.10" y="226.97" font-family='"Liberation Sans", Arial, sans-serif' font-size="5.0" font-weight="bold" fill="#fff" text-anchor="middle" textLength="25.5" lengthAdjust="spacingAndGlyphs">A545654-C</text>
<path d="M402.90,277.61 Q404.50,274.41 406.90,274.41 L410.10,274.41 Q408.50,277.61 406.10,277.61 Z" fill="#111"/>
<text x="406.10" y="282.91" font-family='"Liberation Sans", Arial, sans-serif' font-size="5.6" font-weight="normal" fill="#1e1e1e" stroke="#1e1e1e" stroke-width="0.12" text-anchor="middle">AHNGRIM</text>
<circle cx="400.70" cy="287.21" r="2.55" fill="url(#pw)"/>
<text x="406.70" y="289.11" font-family='"Liberation Sans", Arial, sans-serif' font-size="5.6" font-style="italic" fill="#2a2a2a">D-2</text>
<rect x="392.40" y="291.41" width="27.4" height="5.4" fill="#111"/>
<text x="406.10" y="295.91" font-family='"Liberation Sans", Arial, sans-serif' font-size="5.0" font-weight="bold" fill="#fff" text-anchor="middle" textLength="25.5" lengthAdjust="spacingAndGlyphs">D9D6642-2</text>
<path d="M432.75,53.57 Q434.35,50.37 436.75,50.37 L439.95,50.37 Q438.35,53.57 435.95,53.57 Z" fill="#111"/>
<text x="435.95" y="58.87" font-family='"Liberation Sans", Arial, sans-serif' font-size="5.6" font-weight="normal" fill="#1e1e1e" stroke="#1e1e1e" stroke-width="0.12" text-anchor="middle">TOBIBAK</text>
<circle cx="430.55" cy="63.17" r="2.55" fill="url(#pw)"/>
<text x="436.55" y="65.07" font-family='"Liberation Sans", Arial, sans-serif' font-size="5.6" font-style="italic" fill="#2a2a2a">C-A</text>
<rect x="422.25" y="67.37" width="27.4" height="5.4" fill="#111"/>
<text x="435.95" y="71.87" font-family='"Liberation Sans", Arial, sans-serif' font-size="5.0" font-weight="bold" fill="#fff" text-anchor="middle" textLength="25.5" lengthAdjust="spacingAndGlyphs">C96A410-A</text>
<path d="M432.75,122.50 Q434.35,119.30 436.75,119.30 L439.95,119.30 Q438.35,122.50 435.95,122.50 Z" fill="#111"/>
<text x="435.95" y="127.80" font-family='"Liberation Sans", Arial, sans-serif' font-size="5.6" font-weight="normal" fill="#1e1e1e" stroke="#1e1e1e" stroke-width="0.12" text-anchor="middle">DEMICK</text>
<circle cx="430.55" cy="132.10" r="2.55" fill="url(#pw)"/>
<text x="436.55" y="134.00" font-family='"Liberation Sans", Arial, sans-serif' font-size="5.6" font-style="italic" fill="#2a2a2a">A-D</text>
<rect x="422.25" y="136.30" width="27.4" height="5.4" fill="#111"/>
<text x="435.95" y="140.80" font-family='"Liberation Sans", Arial, sans-serif' font-size="5.0" font-weight="bold" fill="#fff" text-anchor="middle" textLength="25.5" lengthAdjust="spacingAndGlyphs">A532879-D</text>
<path d="M462.60,36.33 Q464.20,33.13 466.60,33.13 L469.80,33.13 Q468.20,36.33 465.80,36.33 Z" fill="#111"/>
<text x="465.80" y="41.63" font-family='"Liberation Sans", Arial, sans-serif' font-size="5.6" font-weight="normal" fill="#1e1e1e" stroke="#1e1e1e" stroke-width="0.12" text-anchor="middle">BIINERSA</text>
<circle cx="460.40" cy="45.93" r="2.55" fill="url(#pw)"/>
<text x="466.40" y="47.83" font-family='"Liberation Sans", Arial, sans-serif' font-size="5.6" font-style="italic" fill="#2a2a2a">B-B</text>
<rect x="452.10" y="50.13" width="27.4" height="5.4" fill="#111"/>
<text x="465.80" y="54.63" font-family='"Liberation Sans", Arial, sans-serif' font-size="5.0" font-weight="bold" fill="#fff" text-anchor="middle" textLength="25.5" lengthAdjust="spacingAndGlyphs">B849401-B</text>
<path d="M462.60,70.80 Q464.20,67.60 466.60,67.60 L469.80,67.60 Q468.20,70.80 465.80,70.80 Z" fill="#111"/>
<polygon points="459.50,67.10 460.16,68.59 461.78,68.76 460.57,69.85 460.91,71.44 459.50,70.63 458.09,71.44 458.43,69.85 457.22,68.76 458.84,68.59" fill="#111"/>
<text x="465.80" y="76.10" font-family='"Liberation Sans", Arial, sans-serif' font-size="5.6" font-weight="normal" fill="#1e1e1e" stroke="#1e1e1e" stroke-width="0.12" text-anchor="middle">BUAGKI</text>
<circle cx="460.40" cy="80.40" r="2.55" fill="url(#pw)"/>
<text x="466.40" y="82.30" font-family='"Liberation Sans", Arial, sans-serif' font-size="5.6" font-style="italic" fill="#2a2a2a">A-C</text>
<rect x="452.10" y="84.60" width="27.4" height="5.4" fill="#111"/>
<text x="465.80" y="89.10" font-family='"Liberation Sans", Arial, sans-serif' font-size="5.0" font-weight="bold" fill="#fff" text-anchor="middle" textLength="25.5" lengthAdjust="spacingAndGlyphs">A426353-C</text>
<path d="M492.45,122.50 Q494.05,119.30 496.45,119.30 L499.65,119.30 Q498.05,122.50 495.65,122.50 Z" fill="#111"/>
<text x="495.65" y="127.80" font-family='"Liberation Sans", Arial, sans-serif' font-size="5.6" font-weight="normal" fill="#1e1e1e" stroke="#1e1e1e" stroke-width="0.12" text-anchor="middle">VIGH</text>
<circle cx="490.25" cy="132.10" r="2.55" fill="url(#pd)"/>
<text x="496.25" y="134.00" font-family='"Liberation Sans", Arial, sans-serif' font-size="5.6" font-style="italic" fill="#2a2a2a">C-A</text>
<rect x="481.95" y="136.30" width="27.4" height="5.4" fill="#111"/>
<text x="495.65" y="140.80" font-family='"Liberation Sans", Arial, sans-serif' font-size="5.0" font-weight="bold" fill="#fff" text-anchor="middle" textLength="25.5" lengthAdjust="spacingAndGlyphs">C200257-A</text>
<path d="M492.45,225.91 Q494.05,222.71 496.45,222.71 L499.65,222.71 Q498.05,225.91 495.65,225.91 Z" fill="#111"/>
<polygon points="489.35,222.21 490.01,223.69 491.63,223.87 490.42,224.96 490.76,226.55 489.35,225.73 487.94,226.55 488.28,224.96 487.07,223.87 488.69,223.69" fill="#111"/>
<text x="495.65" y="231.21" font-family='"Liberation Sans", Arial, sans-serif' font-size="5.6" font-weight="normal" fill="#1e1e1e" stroke="#1e1e1e" stroke-width="0.12" text-anchor="middle">SIX LIGHTS</text>
<circle cx="490.25" cy="235.51" r="2.55" fill="url(#pw)"/>
<text x="496.25" y="237.41" font-family='"Liberation Sans", Arial, sans-serif' font-size="5.6" font-style="italic" fill="#2a2a2a">B-9</text>
<rect x="481.95" y="239.71" width="27.4" height="5.4" fill="#111"/>
<text x="495.65" y="244.21" font-family='"Liberation Sans", Arial, sans-serif' font-size="5.0" font-weight="bold" fill="#fff" text-anchor="middle" textLength="25.5" lengthAdjust="spacingAndGlyphs">B577441-9</text>
<text x="495.65" y="300.14" font-family='"Liberation Sans", Arial, sans-serif' font-size="5.6" font-weight="normal" fill="#1e1e1e" stroke="#1e1e1e" stroke-width="0.12" text-anchor="middle">EMFASHI</text>
<circle cx="490.25" cy="304.44" r="2.55" fill="url(#pw)"/>
<text x="496.25" y="306.34" font-family='"Liberation Sans", Arial, sans-serif' font-size="5.6" font-style="italic" fill="#2a2a2a">D-5</text>
<rect x="481.95" y="308.64" width="27.4" height="5.4" fill="#111"/>
<text x="495.65" y="313.14" font-family='"Liberation Sans", Arial, sans-serif' font-size="5.0" font-weight="bold" fill="#fff" text-anchor="middle" textLength="25.5" lengthAdjust="spacingAndGlyphs">D658341-5</text>
<path d="M552.15,122.50 Q553.75,119.30 556.15,119.30 L559.35,119.30 Q557.75,122.50 555.35,122.50 Z" fill="#111"/>
<text x="555.35" y="127.80" font-family='"Liberation Sans", Arial, sans-serif' font-size="5.6" font-weight="normal" fill="#1e1e1e" stroke="#1e1e1e" stroke-width="0.12" text-anchor="middle">ITASIS</text>
<circle cx="549.95" cy="132.10" r="2.55" fill="url(#pw)"/>
<text x="555.95" y="134.00" font-family='"Liberation Sans", Arial, sans-serif' font-size="5.6" font-style="italic" fill="#2a2a2a">C-9</text>
<rect x="541.65" y="136.30" width="27.4" height="5.4" fill="#111"/>
<text x="555.35" y="140.80" font-family='"Liberation Sans", Arial, sans-serif' font-size="5.0" font-weight="bold" fill="#fff" text-anchor="middle" textLength="25.5" lengthAdjust="spacingAndGlyphs">C542375-9</text>
<path d="M552.15,156.97 Q553.75,153.77 556.15,153.77 L559.35,153.77 Q557.75,156.97 555.35,156.97 Z" fill="#111"/>
<polygon points="547.25,157.25 551.45,157.25 549.35,153.58" fill="#111"/>
<text x="555.35" y="162.27" font-family='"Liberation Sans", Arial, sans-serif' font-size="5.6" font-weight="normal" fill="#1e1e1e" stroke="#1e1e1e" stroke-width="0.12" text-anchor="middle">VALENEG</text>
<circle cx="549.95" cy="166.57" r="2.55" fill="url(#pd)"/>
<text x="555.95" y="168.47" font-family='"Liberation Sans", Arial, sans-serif' font-size="5.6" font-style="italic" fill="#2a2a2a">C-7</text>
<rect x="541.65" y="170.77" width="27.4" height="5.4" fill="#111"/>
<text x="555.35" y="175.27" font-family='"Liberation Sans", Arial, sans-serif' font-size="5.0" font-weight="bold" fill="#fff" text-anchor="middle" textLength="25.5" lengthAdjust="spacingAndGlyphs">C412120-7</text>
<path d="M552.15,191.44 Q553.75,188.24 556.15,188.24 L559.35,188.24 Q557.75,191.44 555.35,191.44 Z" fill="#111"/>
<text x="555.35" y="196.74" font-family='"Liberation Sans", Arial, sans-serif' font-size="5.6" font-weight="bold" fill="#1e1e1e" stroke="#1e1e1e" stroke-width="0.12" text-anchor="middle">ZUDAGIM</text>
<circle cx="549.95" cy="201.04" r="2.55" fill="url(#pw)"/>
<text x="555.95" y="202.94" font-family='"Liberation Sans", Arial, sans-serif' font-size="5.6" font-style="italic" fill="#2a2a2a">E-5</text>
<rect x="541.65" y="205.24" width="27.4" height="5.4" fill="#111"/>
<text x="555.35" y="209.74" font-family='"Liberation Sans", Arial, sans-serif' font-size="5.0" font-weight="bold" fill="#fff" text-anchor="middle" textLength="25.5" lengthAdjust="spacingAndGlyphs">E68299A-5</text>
<path d="M552.15,294.84 Q553.75,291.64 556.15,291.64 L559.35,291.64 Q557.75,294.84 555.35,294.84 Z" fill="#111"/>
<text x="555.35" y="300.14" font-family='"Liberation Sans", Arial, sans-serif' font-size="5.6" font-weight="normal" fill="#1e1e1e" stroke="#1e1e1e" stroke-width="0.12" text-anchor="middle">KEARB</text>
<circle cx="549.95" cy="304.44" r="2.55" fill="url(#pd)"/>
<text x="555.95" y="306.34" font-family='"Liberation Sans", Arial, sans-serif' font-size="5.6" font-style="italic" fill="#2a2a2a">C-9</text>
<rect x="541.65" y="308.64" width="27.4" height="5.4" fill="#111"/>
<text x="555.35" y="313.14" font-family='"Liberation Sans", Arial, sans-serif' font-size="5.0" font-weight="bold" fill="#fff" text-anchor="middle" textLength="25.5" lengthAdjust="spacingAndGlyphs">CAC8341-9</text>
<path d="M582.00,36.33 Q583.60,33.13 586.00,33.13 L589.20,33.13 Q587.60,36.33 585.20,36.33 Z" fill="#111"/>
<rect x="577.00" y="33.13" width="3.20" height="3.20" fill="#111"/>
<text x="585.20" y="41.63" font-family='"Liberation Sans", Arial, sans-serif' font-size="5.6" font-weight="normal" fill="#1e1e1e" stroke="#1e1e1e" stroke-width="0.12" text-anchor="middle">DEPOT</text>
<circle cx="579.80" cy="45.93" r="2.55" fill="url(#pw)"/>
<text x="585.80" y="47.83" font-family='"Liberation Sans", Arial, sans-serif' font-size="5.6" font-style="italic" fill="#2a2a2a">A-D</text>
<rect x="571.50" y="50.13" width="27.4" height="5.4" fill="#111"/>
<text x="585.20" y="54.63" font-family='"Liberation Sans", Arial, sans-serif' font-size="5.0" font-weight="bold" fill="#fff" text-anchor="middle" textLength="25.5" lengthAdjust="spacingAndGlyphs">A68646A-D</text>
<path d="M582.00,105.27 Q583.60,102.07 586.00,102.07 L589.20,102.07 Q587.60,105.27 585.20,105.27 Z" fill="#111"/>
<text x="585.20" y="110.57" font-family='"Liberation Sans", Arial, sans-serif' font-size="5.6" font-weight="normal" fill="#1e1e1e" stroke="#1e1e1e" stroke-width="0.12" text-anchor="middle">NUBOTECH</text>
<circle cx="579.80" cy="114.87" r="2.55" fill="url(#pw)"/>
<text x="585.80" y="116.77" font-family='"Liberation Sans", Arial, sans-serif' font-size="5.6" font-style="italic" fill="#2a2a2a">C-9</text>
<rect x="571.50" y="119.07" width="27.4" height="5.4" fill="#111"/>
<text x="585.20" y="123.57" font-family='"Liberation Sans", Arial, sans-serif' font-size="5.0" font-weight="bold" fill="#fff" text-anchor="middle" textLength="25.5" lengthAdjust="spacingAndGlyphs">C562556-9</text>
<path d="M582.00,139.74 Q583.60,136.54 586.00,136.54 L589.20,136.54 Q587.60,139.74 585.20,139.74 Z" fill="#111"/>
<text x="585.20" y="142.74" font-family='"Liberation Sans", Arial, sans-serif' font-size="5.6" fill="#1e1e1e" stroke="#1e1e1e" stroke-width="0.12" text-anchor="middle">JUSTENDS</text>
<text x="585.20" y="147.74" font-family='"Liberation Sans", Arial, sans-serif' font-size="5.6" fill="#1e1e1e" stroke="#1e1e1e" stroke-width="0.12" text-anchor="middle">FOUR</text>
<circle cx="579.80" cy="151.74" r="2.55" fill="url(#pw)"/>
<text x="585.80" y="153.64" font-family='"Liberation Sans", Arial, sans-serif' font-size="5.6" font-style="italic" fill="#2a2a2a">D-5</text>
<rect x="571.50" y="153.54" width="27.4" height="5.4" fill="#111"/>
<text x="585.20" y="158.04" font-family='"Liberation Sans", Arial, sans-serif' font-size="5.0" font-weight="bold" fill="#fff" text-anchor="middle" textLength="25.5" lengthAdjust="spacingAndGlyphs">D567100-5</text>
<text x="585.20" y="179.51" font-family='"Liberation Sans", Arial, sans-serif' font-size="5.6" font-weight="bold" fill="#1e1e1e" stroke="#1e1e1e" stroke-width="0.12" text-anchor="middle">ASHIMA</text>
<circle cx="579.80" cy="183.81" r="2.55" fill="url(#pw)"/>
<text x="585.80" y="185.71" font-family='"Liberation Sans", Arial, sans-serif' font-size="5.6" font-style="italic" fill="#2a2a2a">E-8</text>
<rect x="571.50" y="188.01" width="27.4" height="5.4" fill="#111"/>
<text x="585.20" y="192.51" font-family='"Liberation Sans", Arial, sans-serif' font-size="5.0" font-weight="bold" fill="#fff" text-anchor="middle" textLength="25.5" lengthAdjust="spacingAndGlyphs">E543942-8</text>
<path d="M611.85,53.57 Q613.45,50.37 615.85,50.37 L619.05,50.37 Q617.45,53.57 615.05,53.57 Z" fill="#111"/>
<polygon points="606.95,53.85 611.15,53.85 609.05,50.17" fill="#111"/>
<text x="615.05" y="58.87" font-family='"Liberation Sans", Arial, sans-serif' font-size="5.6" font-weight="normal" fill="#1e1e1e" stroke="#1e1e1e" stroke-width="0.12" text-anchor="middle">VANQUET</text>
<circle cx="609.65" cy="63.17" r="2.55" fill="url(#pw)"/>
<text x="615.65" y="65.07" font-family='"Liberation Sans", Arial, sans-serif' font-size="5.6" font-style="italic" fill="#2a2a2a">B-9</text>
<rect x="601.35" y="67.37" width="27.4" height="5.4" fill="#111"/>
<text x="615.05" y="71.87" font-family='"Liberation Sans", Arial, sans-serif' font-size="5.0" font-weight="bold" fill="#fff" text-anchor="middle" textLength="25.5" lengthAdjust="spacingAndGlyphs">B63A8A8-9</text>
<polygon points="398.2,18.8 414.2,18.8 406.2,11.8" fill="#111"/>
<polygon points="398.2,373.3 414.2,373.3 406.2,380.3" fill="#111"/>
<polygon points="577.2,18.8 593.2,18.8 585.2,11.8" fill="#111"/>
<polygon points="577.2,373.3 593.2,373.3 585.2,380.3" fill="#111"/>
<polygon points="386.6,33.3 386.6,48.5 379.2,40.9" fill="#111"/>
<polygon points="634.3,33.3 634.3,48.5 641.7,40.9" fill="#111"/>
<polygon points="386.6,343.0 386.6,358.20000000000005 379.2,350.6" fill="#111"/>
<polygon points="634.3,343.0 634.3,358.20000000000005 641.7,350.6" fill="#111"/>
<text x="476.9" y="17.4" font-family='"Liberation Sans", Arial, sans-serif' font-size="6.8" fill="#111"><tspan font-weight="bold">To Khukish</tspan> (page 40)</text>
<text x="464.6" y="397" font-family='"Liberation Sans", Arial, sans-serif' font-size="6.85" fill="#111"><tspan font-weight="bold">To The Empty Void</tspan> (page 67)</text>
<text transform="translate(387.6,237.6) rotate(-90)" font-family='"Liberation Sans", Arial, sans-serif' font-size="8.8" fill="#1a1a1a"><tspan font-weight="bold">To Ian</tspan><tspan stroke="#1a1a1a" stroke-width="0.3"> (page 53)</tspan></text>
<text transform="translate(636.5,164.9) rotate(90)" font-family='"Liberation Sans", Arial, sans-serif' font-size="8.95" fill="#1a1a1a"><tspan font-weight="bold">To Naadi</tspan><tspan stroke="#1a1a1a" stroke-width="0.3"> (page 60)</tspan></text>
<polygon points="393.00,403.50 393.64,404.93 395.19,405.09 394.03,406.13 394.35,407.66 393.00,406.88 391.65,407.66 391.97,406.13 390.81,405.09 392.36,404.93" fill="#111"/>
<text x="400.1" y="407.6" font-family='"Liberation Sans", Arial, sans-serif' font-size="5.6" fill="#1a1a1a" stroke="#1a1a1a" stroke-width="0.12">Imperial Navy Base</text>
<polygon points="390.90,415.18 395.10,415.18 393.00,411.50" fill="#111"/>
<text x="400.1" y="415.4" font-family='"Liberation Sans", Arial, sans-serif' font-size="5.6" fill="#1a1a1a" stroke="#1a1a1a" stroke-width="0.12">Imperial Scout Base</text>
<rect x="391.25" y="419.15" width="3.50" height="3.50" fill="#111"/>
<text x="400.1" y="422.9" font-family='"Liberation Sans", Arial, sans-serif' font-size="5.6" fill="#1a1a1a" stroke="#1a1a1a" stroke-width="0.12">Imperial Naval Depot</text>
<line x1="466.9" y1="405.9" x2="481" y2="405.9" stroke="#7cc466" stroke-width="1.5"/>
<text x="485.1" y="407.6" font-family='"Liberation Sans", Arial, sans-serif' font-size="5.6" fill="#1a1a1a" stroke="#1a1a1a" stroke-width="0.12">Secure System</text>
<line x1="466.9" y1="413.4" x2="481" y2="413.4" stroke="#f0a53a" stroke-width="1.5"/>
<text x="485.1" y="415.4" font-family='"Liberation Sans", Arial, sans-serif' font-size="5.6" fill="#1a1a1a" stroke="#1a1a1a" stroke-width="0.12">Amber Zone</text>
<line x1="466.9" y1="420.9" x2="481" y2="420.9" stroke="#3d9ad1" stroke-width="1.5"/>
<text x="485.1" y="422.9" font-family='"Liberation Sans", Arial, sans-serif' font-size="5.6" fill="#1a1a1a" stroke="#1a1a1a" stroke-width="0.12">X-Boat Route</text>
<line x1="466.9" y1="428.3" x2="481" y2="428.3" stroke="#e03020" stroke-width="1.1" stroke-dasharray="1.2 1.2"/>
<text x="485.1" y="430.3" font-family='"Liberation Sans", Arial, sans-serif' font-size="5.6" fill="#1a1a1a" stroke="#1a1a1a" stroke-width="0.12">Imperium Border</text>
<text x="547.6" y="407.6" font-family='"Liberation Sans", Arial, sans-serif' font-size="5.4" font-style="italic" fill="#333">B-6</text>
<text x="561" y="407.6" font-family='"Liberation Sans", Arial, sans-serif' font-size="5.6" fill="#1a1a1a" stroke="#1a1a1a" stroke-width="0.12">Starport Class &amp; Tech Level</text>
<circle cx="551.2" cy="413.4" r="2.2" fill="url(#pw)"/>
<text x="561" y="415.4" font-family='"Liberation Sans", Arial, sans-serif' font-size="5.6" fill="#1a1a1a" stroke="#1a1a1a" stroke-width="0.12">Planet (Water Present)</text>
<circle cx="551.2" cy="420.9" r="2.2" fill="url(#pd)"/>
<text x="561" y="422.9" font-family='"Liberation Sans", Arial, sans-serif' font-size="5.6" fill="#1a1a1a" stroke="#1a1a1a" stroke-width="0.12">Planet (Dry)</text>
<path d="M547.80,429.90 Q549.40,426.70 551.80,426.70 L555.00,426.70 Q553.40,429.90 551.00,429.90 Z" fill="#111"/>
<text x="561" y="430.3" font-family='"Liberation Sans", Arial, sans-serif' font-size="5.6" fill="#1a1a1a" stroke="#1a1a1a" stroke-width="0.12">Gas Giant</text>
<polyline points="671,0 671,209.6 684.8,221.2 684.8,419.6 670.4,430.2 670.4,453" fill="none" stroke="#9ea4aa" stroke-width="1.2"/>
<polyline points="672.2,0 672.2,209.2 686,220.8 686,420 671.6,430.6 671.6,453" fill="none" stroke="#fafafa" stroke-width="0.8"/>
<rect x="654.2" y="32" width="33.2" height="55.7" fill="#fbfbfb" stroke="#111" stroke-width="0.9"/>
<line x1="662.50" y1="32" x2="662.50" y2="87.7" stroke="#111" stroke-width="0.9"/>
<line x1="654.2" y1="45.92" x2="687.4000000000001" y2="45.92" stroke="#111" stroke-width="0.9"/>
<line x1="670.80" y1="32" x2="670.80" y2="87.7" stroke="#111" stroke-width="0.9"/>
<line x1="654.2" y1="59.85" x2="687.4000000000001" y2="59.85" stroke="#111" stroke-width="0.9"/>
<line x1="679.10" y1="32" x2="679.10" y2="87.7" stroke="#111" stroke-width="0.9"/>
<line x1="654.2" y1="73.78" x2="687.4000000000001" y2="73.78" stroke="#111" stroke-width="0.9"/>
<rect x="662.50" y="45.92" width="8.30" height="13.93" fill="#111"/>
<text x="666.65" y="57.39" font-family='"Liberation Sans", Arial, sans-serif' font-size="12.5" font-weight="bold" fill="#fff" text-anchor="middle">F</text>
<text transform="translate(673.0,128.2) rotate(90) scale(0.515,1)" font-family='"Liberation Sans", Arial, sans-serif' font-size="10.4" font-weight="bold" fill="#3a3a3a">CORRIDOR</text>
<text transform="translate(671,273) rotate(90) scale(0.513,1)" font-family='"Liberation Sans", Arial, sans-serif' font-size="17.4" font-weight="bold" fill="#151515">STRAND SUBSECTOR</text>
<path d="M675.3,445.3 A9.5,9.5 0 0 1 694.3,445.3 L693.4,445.3 A8.6,8.0 0 0 0 676.2,445.3 Z" fill="#1a1a1a"/>
<text transform="translate(684.9,448.8) scale(1.4,1)" font-size="5.0" text-anchor="middle" fill="#3a3a3a" stroke="#3a3a3a" stroke-width="0.15" font-family='"Liberation Sans", Arial, sans-serif'>57</text>
</svg>
<div class="col" style="left:29.1px;top:298.2px">
<p>Like the Ian subsector, Strand lies well behind the<br>Imperial border to coreward and is generally secure.<br>Only three worlds in the subsector are not members<br>of the Imperium, lying ‘just offshore’ in the Great Rift<br>and reached by a jump-2 transit. The subsector thus<br>faces no serious external threats but is still considered<br>strategically important due to the amount of shipping<br>moving along the Corridor.</p>
<p>The Imperial Navy’s Corridor Fleet has its base at<br>Depot, with its command structure and most of its<br>heavy assets based there. At any given time, vessels<br>will be positioned elsewhere in the sector or engaged<br>in operations, training or flag-showing along the<br>border but Depot is where the battlewagons live and<br>there are always big ships undergoing maintenance or<br>standing ready to deal with a crisis.</p>
</div>
<div class="col" style="left:179.8px;top:298.2px">
<p>Depot is also the staging point for navy ships moving<br>along the Corridor to reinforce other sectors; during<br>the Frontier Wars, much of its battleship and cruiser<br>strength was sent to the Spinward Marches and<br>squadron movements here can sometimes indicate<br>rising tensions elsewhere. Likewise, the return of a<br>long-absent squadron to Depot is usually taken as a<br>sign that events have settled.</p>
<p>The surrounding systems benefit from large amounts<br>of navy money entering the economy. This is on a<br>small scale in bars, shops and entertainment facilities<br>visited by personnel on liberty or furlough and much<br>grander amounts when naval contracts are issued for<br>everything from rations and boots to hull plates and<br>particle accelerator components.</p>
</div>
</body></html>
